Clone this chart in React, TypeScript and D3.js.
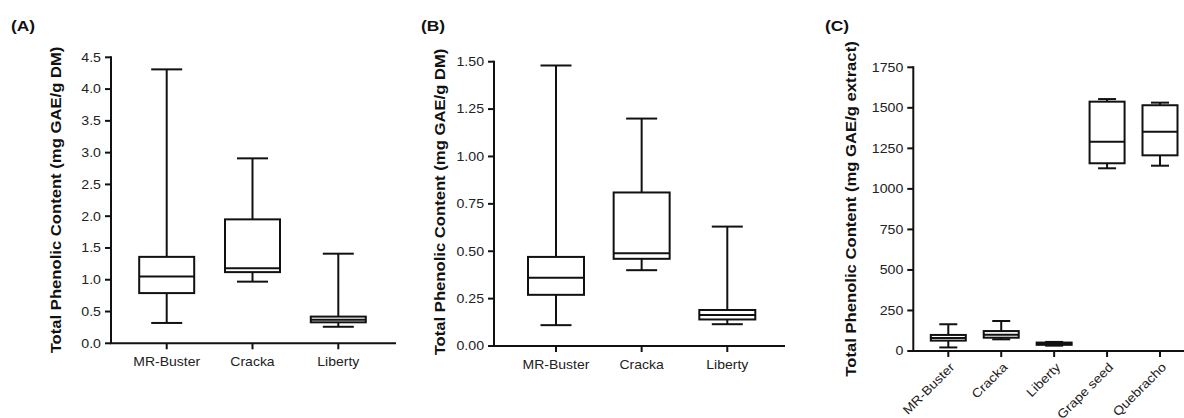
import React from "react";
import * as d3 from "d3";

const catsAB = ["MR-Buster", "Cracka", "Liberty"];
const catsC = ["MR-Buster", "Cracka", "Liberty", "Grape seed", "Quebracho"];

// [min, q1, median, q3, max]
const statsA = [
  [0.32, 0.79, 1.05, 1.36, 4.31],
  [0.97, 1.12, 1.18, 1.95, 2.91],
  [0.26, 0.33, 0.37, 0.42, 1.41],
];
const statsB = [
  [0.11, 0.27, 0.36, 0.47, 1.48],
  [0.40, 0.46, 0.49, 0.81, 1.20],
  [0.115, 0.14, 0.163, 0.19, 0.63],
];
const statsC = [
  [22, 64, 80, 99, 165],
  [72, 82, 100, 123, 185],
  [33, 38, 45, 52, 56],
  [1127, 1158, 1291, 1538, 1554],
  [1143, 1207, 1353, 1516, 1532],
];

const ticksA = [0, 0.5, 1, 1.5, 2, 2.5, 3, 3.5, 4, 4.5];
const ticksB = [0, 0.25, 0.5, 0.75, 1, 1.25, 1.5];
const ticksC = [0, 250, 500, 750, 1000, 1250, 1500, 1750];

const FONT = "'Liberation Sans', Arial, Helvetica, sans-serif";

type PanelProps = {
  label: string;
  labelX: number;
  title: string;
  titleX: number;
  titleY: number;
  axisX: number;
  axisEnd: number;
  yTop: number;
  yBottom: number;
  domainMax: number;
  ticks: number[];
  tickFmt: (v: number) => string;
  cats: string[];
  stats: number[][];
  catRange: [number, number];
  boxW: number;
  capW: number;
  rotate?: boolean;
};

function Panel(p: PanelProps) {
  const y = d3.scaleLinear().domain([0, p.domainMax]).range([p.yBottom, p.yTop]);
  const x = d3.scalePoint<string>().domain(p.cats).range(p.catRange);
  const sw = 2;
  return (
    <g>
      <text
        transform={`translate(${p.labelX},31) scale(1.2,1)`}
        fontFamily={FONT}
        fontWeight="bold"
        fontSize={14.5}
        fill="#111"
      >
        {p.label}
      </text>
      <text
        transform={`translate(${p.titleX},${p.titleY}) rotate(-90) scale(1.19,1)`}
        textAnchor="middle"
        fontFamily={FONT}
        fontWeight="bold"
        fontSize={14}
        fill="#111"
      >
        {p.title}
      </text>
      {/* y axis */}
      <line x1={p.axisX} x2={p.axisX} y1={y(p.domainMax) - 1} y2={p.yBottom} stroke="#111" strokeWidth={sw} />
      {p.ticks.map((t) => (
        <g key={t}>
          <line x1={p.axisX - 6} x2={p.axisX} y1={y(t)} y2={y(t)} stroke="#111" strokeWidth={sw} />
          <text
            transform={`translate(${p.axisX - 10},${y(t)}) scale(1.18,1)`}
            dy="0.36em"
            textAnchor="end"
            fontFamily={FONT}
            fontSize={12}
            fill="#222"
          >
            {p.tickFmt(t)}
          </text>
        </g>
      ))}
      {/* x axis */}
      <line x1={p.axisX - 1} x2={p.axisEnd} y1={p.yBottom} y2={p.yBottom} stroke="#111" strokeWidth={sw} />
      {p.cats.map((c) => {
        const cx = x(c)!;
        return (
          <g key={c}>
            <line x1={cx} x2={cx} y1={p.yBottom} y2={p.yBottom + 6} stroke="#111" strokeWidth={sw} />
            {p.rotate ? (
              <text
                transform={`translate(${cx + 7},${p.yBottom + 17}) rotate(-45) scale(1.12,1)`}
                textAnchor="end"
                fontFamily={FONT}
                fontSize={12.5}
                fill="#222"
              >
                {c}
              </text>
            ) : (
              <text
                transform={`translate(${cx},${p.yBottom + 23}) scale(1.12,1)`}
                textAnchor="middle"
                fontFamily={FONT}
                fontSize={12.5}
                fill="#222"
              >
                {c}
              </text>
            )}
          </g>
        );
      })}
      {/* boxes */}
      {p.cats.map((c, i) => {
        const [mn, q1, md, q3, mx] = p.stats[i];
        const cx = x(c)!;
        return (
          <g key={"b" + c} stroke="#111" strokeWidth={sw} fill="none">
            <line x1={cx} x2={cx} y1={y(mx)} y2={y(q3)} />
            <line x1={cx} x2={cx} y1={y(q1)} y2={y(mn)} />
            <line x1={cx - p.capW / 2} x2={cx + p.capW / 2} y1={y(mx)} y2={y(mx)} />
            <line x1={cx - p.capW / 2} x2={cx + p.capW / 2} y1={y(mn)} y2={y(mn)} />
            <rect x={cx - p.boxW / 2} y={y(q3)} width={p.boxW} height={y(q1) - y(q3)} fill="white" />
            <line x1={cx - p.boxW / 2} x2={cx + p.boxW / 2} y1={y(md)} y2={y(md)} />
          </g>
        );
      })}
    </g>
  );
}

export default function App() {
  return (
    <svg
      width={1184}
      height={418}
      style={{ position: "absolute", left: 0, top: 0, display: "block", background: "white" }}
    >
      <Panel
        label="(A)"
        labelX={11}
        title="Total Phenolic Content (mg GAE/g DM)"
        titleX={61}
        titleY={200}
        axisX={111}
        axisEnd={396}
        yTop={57.3}
        yBottom={343.3}
        domainMax={4.5}
        ticks={ticksA}
        tickFmt={(v) => d3.format(".1f")(v)}
        cats={catsAB}
        stats={statsA}
        catRange={[166.7, 338.3]}
        boxW={55}
        capW={31}
      />
      <Panel
        label="(B)"
        labelX={421}
        title="Total Phenolic Content (mg GAE/g DM)"
        titleX={445}
        titleY={202}
        axisX={494}
        axisEnd={785}
        yTop={61.7}
        yBottom={346}
        domainMax={1.5}
        ticks={ticksB}
        tickFmt={(v) => d3.format(".2f")(v)}
        cats={catsAB}
        stats={statsB}
        catRange={[556, 727.3]}
        boxW={56}
        capW={31}
      />
      <Panel
        label="(C)"
        labelX={825}
        title="Total Phenolic Content (mg GAE/g extract)"
        titleX={856}
        titleY={209}
        axisX={913.3}
        axisEnd={1184}
        yTop={67.3}
        yBottom={351}
        domainMax={1750}
        ticks={ticksC}
        tickFmt={(v) => String(v)}
        cats={catsC}
        stats={statsC}
        catRange={[948.3, 1160]}
        boxW={35}
        capW={18}
        rotate
      />
    </svg>
  );
}
